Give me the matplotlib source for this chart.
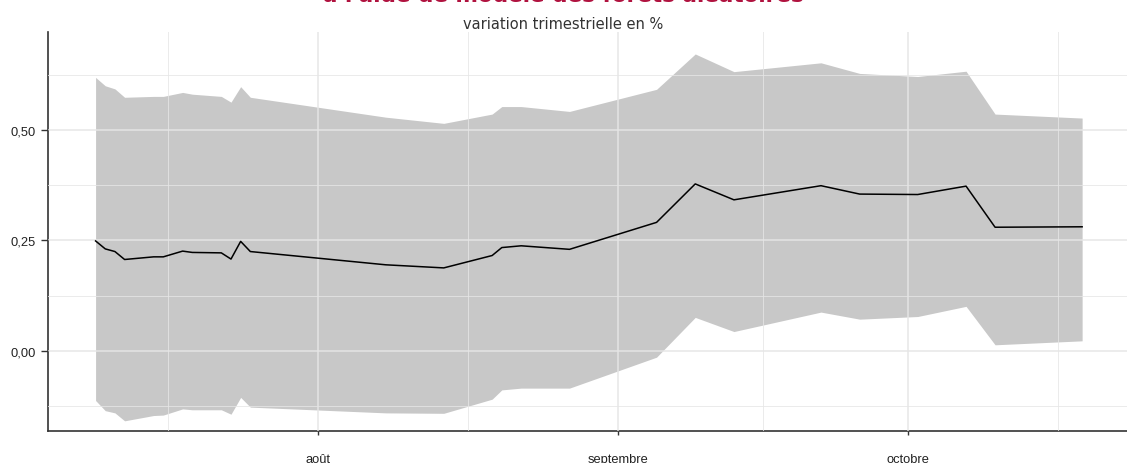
import datetime as dt
import matplotlib
matplotlib.use("Agg")
import matplotlib.pyplot as plt
import matplotlib.dates as mdates

# prévisions (variation trimestrielle en %) et intervalle
dates = ["2019-07-09", "2019-07-10", "2019-07-11", "2019-07-12", "2019-07-15",
         "2019-07-16", "2019-07-18", "2019-07-19", "2019-07-22", "2019-07-23",
         "2019-07-24", "2019-07-25", "2019-08-08", "2019-08-14", "2019-08-19",
         "2019-08-20", "2019-08-22", "2019-08-27", "2019-09-05", "2019-09-09",
         "2019-09-13", "2019-09-22", "2019-09-26", "2019-10-02", "2019-10-07",
         "2019-10-10", "2019-10-19"]
prev = [0.249, 0.231, 0.225, 0.207, 0.213, 0.213, 0.226, 0.223, 0.222, 0.208,
        0.248, 0.225, 0.195, 0.188, 0.216, 0.234, 0.238, 0.230, 0.291, 0.378,
        0.342, 0.374, 0.355, 0.354, 0.373, 0.280, 0.281]
haut = [0.619, 0.600, 0.593, 0.574, 0.576, 0.576, 0.585, 0.581, 0.576, 0.563,
        0.598, 0.574, 0.529, 0.515, 0.536, 0.553, 0.553, 0.542, 0.592, 0.672,
        0.632, 0.652, 0.628, 0.621, 0.633, 0.536, 0.527]
bas = [-0.112, -0.135, -0.140, -0.158, -0.146, -0.145, -0.131, -0.133, -0.133, -0.143,
       -0.105, -0.127, -0.140, -0.141, -0.109, -0.088, -0.084, -0.084, -0.014, 0.076,
       0.044, 0.088, 0.072, 0.078, 0.101, 0.014, 0.023]

mois = ["2019-08-01", "2019-09-01", "2019-10-01"]
mois_labels = ["août", "septembre", "octobre"]
mi_mois = ["2019-07-16 12:00", "2019-08-16 12:00", "2019-09-16", "2019-10-16 12:00"]
y_ticks = [0.0, 0.25, 0.5]
y_labels = ["0,00", "0,25", "0,50"]
y_minor = [-0.125, 0.125, 0.375, 0.625]

titre = "à l'aide de modèle des forêts aléatoires"
sous_titre = "variation trimestrielle en %"

x = [dt.datetime.fromisoformat(d) for d in dates]

fig = plt.figure(figsize=(11.27, 4.64), dpi=100)
ax = fig.add_axes([48 / 1127, 32 / 464, 1 - 48 / 1127, (432 - 33) / 464])

ax.fill_between(x, bas, haut, color="#c8c8c8", linewidth=0, zorder=1)
ax.plot(x, prev, color="black", lw=1.1, zorder=3)

# axes
aout = mdates.date2num(dt.datetime(2019, 8, 1))
ax.set_xlim(aout - 27.92, aout + 83.64)
ax.set_ylim(-0.181, 0.7217)

ax.set_xticks([mdates.date2num(dt.datetime.fromisoformat(m)) for m in mois])
ax.set_xticklabels(mois_labels)
ax.set_xticks([mdates.date2num(dt.datetime.fromisoformat(m)) for m in mi_mois], minor=True)
ax.set_yticks(y_ticks)
ax.set_yticklabels(y_labels)
ax.set_yticks(y_minor, minor=True)

ax.set_axisbelow(False)
ax.grid(which="major", color="#e6e6e6", alpha=0.8, lw=1.3, zorder=2)
ax.grid(which="minor", color="#e6e6e6", alpha=0.8, lw=0.7, zorder=2)

for s in ["top", "right"]:
    ax.spines[s].set_visible(False)
for s in ["left", "bottom"]:
    ax.spines[s].set_color("#333333")
    ax.spines[s].set_linewidth(1.2)

ax.tick_params(axis="x", which="major", length=3, width=1, color="#333333",
               pad=13, labelsize=9.3, labelcolor="#222222")
ax.tick_params(axis="y", which="major", length=5, width=1, color="#333333",
               pad=4, labelsize=9.3, labelcolor="#222222")
ax.tick_params(which="minor", length=0)
for lab in ax.get_xticklabels() + ax.get_yticklabels():
    lab.set_family("Liberation Sans")

# titre coupé en haut, comme dans l'original
fig.text(0.5, 1 - 1.5 / 464, titre, ha="center", va="baseline",
         fontsize=15.5, fontweight="bold", color="#b0123f")
fig.text(0.5, 1 - 29 / 464, sous_titre, ha="center", va="baseline",
         fontsize=10.5, color="#333333")

fig.savefig("out.png", dpi=100)
